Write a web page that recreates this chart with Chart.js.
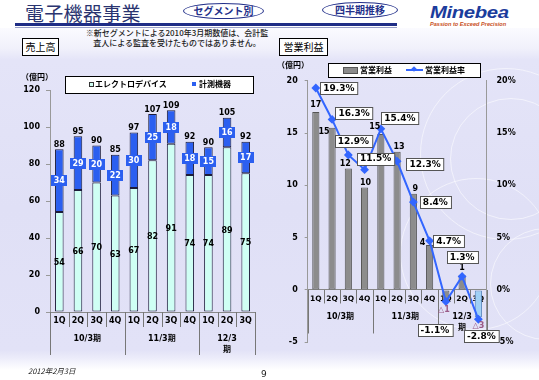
<!DOCTYPE html>
<html><head><meta charset="utf-8">
<script src="https://cdn.jsdelivr.net/npm/chart.js@4.4.1/dist/chart.umd.min.js"></script>
<style>
html,body{margin:0;padding:0;}
body{width:539px;height:380px;position:relative;overflow:hidden;background:#fff;font-family:"DejaVu Sans","Noto Sans CJK JP",sans-serif;}
.a{position:absolute;white-space:nowrap;}
#bg{position:absolute;left:0;top:28px;width:539px;height:342px;overflow:hidden;
background:linear-gradient(to bottom,#fbfbff 0px,#f1f1fb 20px,#e4e4f8 32px,#e0e0f6 180px,#e2e2f7 322px,#ececfa 330px,#f6f6fd 336px,#fff 342px);}
.circ{position:absolute;border:1.5px solid rgba(255,255,255,0.55);border-radius:50%;}
canvas{position:absolute;top:0;}
.jp{font-family:"Noto Sans CJK JP",sans-serif;}
.box{position:absolute;background:#fff;border:1px solid #000;}
.oval{position:absolute;background:#fff;border:1.5px solid #23308a;border-radius:50%;color:#23308a;font-weight:bold;font-size:10px;text-align:center;font-family:"Noto Sans CJK JP",sans-serif;}
</style></head>
<body>
<div id="bg">
  <div class="circ" style="left:420px;top:40px;width:170px;height:170px;"></div>
  <div class="circ" style="left:450px;top:70px;width:120px;height:120px;"></div>
  <div class="circ" style="left:400px;top:150px;width:150px;height:150px;"></div>
  <div class="circ" style="left:490px;top:200px;width:110px;height:110px;"></div>
</div>
<div class="a jp" style="left:25px;top:0px;font-size:19px;line-height:26px;color:#2a3470;letter-spacing:0.3px;">電子機器事業</div>
<div class="oval" style="left:183px;top:3px;width:79px;height:14px;line-height:14px;">セグメント別</div>
<div class="oval" style="left:322px;top:2px;width:74px;height:14px;line-height:14px;">四半期推移</div>
<div class="a" style="left:15px;top:23px;width:382px;height:3px;background:#1f2d86;"></div>
<div class="a" style="left:15px;top:27px;width:382px;height:1px;background:#9aa0c8;"></div>
<div class="a" style="left:430px;top:4px;font-size:16px;font-weight:bold;font-style:italic;color:#1b3c9c;font-family:'Liberation Sans',sans-serif;transform:scaleX(1.27);transform-origin:left top;letter-spacing:-0.3px;">Minebea</div>
<div class="a" style="left:430px;top:21px;font-size:5.6px;font-weight:bold;font-style:italic;color:#c8501e;font-family:'Liberation Sans',sans-serif;">Passion to Exceed Precision</div>
<div class="a jp" style="left:76px;top:28px;width:202px;text-align:center;font-size:8px;line-height:10px;color:#222;font-weight:500;">※新セグメントによる2010年3月期数値は、会計監<br>査人による監査を受けたものではありません。</div>
<div class="box jp" style="left:22px;top:38px;width:35px;height:16px;font-size:10px;line-height:16px;text-align:center;">売上高</div>
<div class="box jp" style="left:279px;top:38px;width:47px;height:16px;font-size:10px;line-height:16px;text-align:center;">営業利益</div>

<canvas id="c1" width="270" height="380" style="left:0px;"></canvas>
<canvas id="c2" width="269" height="380" style="left:270px;"></canvas>

<div class="a jp" style="left:21px;top:71px;font-size:8px;font-weight:bold;line-height:12px;">（億円）</div>
<div class="a jp" style="left:277px;top:59px;font-size:8px;font-weight:bold;line-height:12px;">（億円）</div>
<div class="box" style="left:65px;top:76px;width:187px;height:16px;"></div>
<div class="a" style="left:89px;top:82px;width:3px;height:3px;background:#cffff4;border:1px solid #333;"></div>
<div class="a jp" style="left:95px;top:78px;font-size:8px;font-weight:bold;line-height:12px;">エレクトロデバイス</div>
<div class="a" style="left:192px;top:82px;width:4px;height:4px;background:#2b5ff0;"></div>
<div class="a jp" style="left:199px;top:78px;font-size:8px;font-weight:bold;line-height:12px;">計測機器</div>
<div class="box" style="left:328px;top:63px;width:151px;height:13px;"></div>
<div class="a" style="left:343px;top:67px;width:13px;height:5px;background:#8c8c8c;border:1px solid #555;"></div>
<div class="a jp" style="left:360px;top:64px;font-size:8px;font-weight:bold;line-height:12px;">営業利益</div>
<div class="a" style="left:406px;top:69px;width:17px;height:2px;background:#3366ff;"></div>
<div class="a" style="left:412px;top:67px;width:4px;height:4px;background:#3366ff;transform:rotate(45deg);"></div>
<div class="a jp" style="left:425px;top:64px;font-size:8px;font-weight:bold;line-height:12px;">営業利益率</div>

<div class="a" style="left:28px;top:365px;font-size:7.5px;font-style:italic;color:#222;font-family:'Noto Sans CJK JP',sans-serif;">2012年2月3日</div>
<div class="a" style="left:261px;top:369px;font-size:9px;color:#222;">9</div>

<script>
// ---- data ----
const quarters = ["1Q","2Q","3Q","4Q","1Q","2Q","3Q","4Q","1Q","2Q","3Q"];
const groups = ["10/3期","11/3期","12/3\n期"];
const groupSizes = [4,4,3];
const electroDevices = [54,66,70,63,67,82,91,74,74,89,75];
const instruments = [34,29,20,22,30,25,18,18,15,16,17];
const salesTotals = [88,95,90,85,97,107,109,92,90,105,92];
const opProfit = [17.0,15.5,11.6,9.8,14.9,13.2,9.2,4.3,-1.0,1.4,-2.6];
const opProfitText = ["17","15","12","10","15","13","9","4","△1","1","△3"];
const opMargin = [19.3,16.3,12.9,11.5,15.4,12.3,8.4,4.7,-1.1,1.3,-2.8];
const salesTicks = [0,20,40,60,80,100,120];
const profitTicks = [-5,0,5,10,15,20];

// ---- styles / label offsets ----
const CYAN = '#cffff4', BLUE = '#2b5ff0', EDGE = '#1c1c3a';
const profitOff = [[0,-7],[-8,4],[-3,-5],[1,-5],[-6,-7],[2,-5],[2,-5],[-7,-2],[-2,9],[0,-7],[0,9]];
const marginOff = [[23,0],[22,-6],[5,-14],[11,-11],[19,-11],[28,3],[22,0],[19,0],[-11,29],[0,-19],[3,17]];
const NUM = 'bold 8px "DejaVu Sans", "Noto Sans CJK JP"';

function drawGroups(chart, x0, quarterLen, groupLen, labelDy){
  const ctx = chart.ctx, xs = chart.scales.x, ca = chart.chartArea;
  const n = quarters.length;
  const bx = [];
  for(let i=0;i<=n;i++){
    if(i===0) bx.push(ca.left);
    else if(i===n) bx.push(ca.right);
    else bx.push((xs.getPixelForValue(i-1)+xs.getPixelForValue(i))/2);
  }
  const groupEdges = [0];
  groupSizes.reduce((a,s)=>{groupEdges.push(a+s);return a+s;},0);
  ctx.save();
  ctx.strokeStyle = '#777'; ctx.lineWidth = 1;
  for(let i=0;i<=n;i++){
    const isG = groupEdges.includes(i);
    const x = Math.round(bx[i])+0.5;
    ctx.beginPath(); ctx.moveTo(x, x0); ctx.lineTo(x, x0 + (isG?groupLen:quarterLen)); ctx.stroke();
  }
  ctx.fillStyle = '#000'; ctx.font = NUM; ctx.textAlign='center'; ctx.textBaseline='middle';
  for(let g=0; g<groups.length; g++){
    const cx = (bx[groupEdges[g]] + bx[groupEdges[g+1]])/2;
    groups[g].split('\n').forEach((t,k)=>ctx.fillText(t, cx, x0+labelDy+k*11));
  }
  ctx.restore();
}

const leftPlugin = {
  id:'leftLabels',
  afterDatasetsDraw(chart){
    const ctx = chart.ctx;
    const m0 = chart.getDatasetMeta(0), m1 = chart.getDatasetMeta(1);
    ctx.save();
    ctx.font = NUM; ctx.textAlign='center'; ctx.textBaseline='middle';
    m0.data.forEach((b,i)=>{ ctx.fillStyle='#000'; ctx.fillText(String(electroDevices[i]), b.x, (b.y+b.base)/2+1); });
    m1.data.forEach((b,i)=>{
      const cy = (b.y+b.base)/2;
      ctx.fillStyle = BLUE; ctx.fillRect(Math.round(b.x-8), Math.round(cy-5.5), 16, 11);
      ctx.fillStyle = '#fff'; ctx.textBaseline='middle'; ctx.fillText(String(instruments[i]), b.x, cy+0.5);
      ctx.fillStyle = '#000'; ctx.textBaseline='bottom'; ctx.fillText(String(salesTotals[i]), b.x, b.y-0.5);
    });
    ctx.restore();
    drawGroups(chart, chart.chartArea.bottom, 15, 43, 27);
  }
};

const rightPlugin = {
  id:'rightLabels',
  afterDatasetsDraw(chart){
    const ctx = chart.ctx;
    const ys = chart.scales.y;
    drawGroups(chart, ys.getPixelForValue(0), 13.5, 43.5, 27);
    const mb = chart.getDatasetMeta(1), ml = chart.getDatasetMeta(0);
    ctx.save();
    ctx.font = NUM; ctx.textAlign='center'; ctx.textBaseline='middle';
    mb.data.forEach((b,i)=>{
      const t = opProfitText[i];
      ctx.fillStyle = t.startsWith('△') ? '#9a5a86' : '#000';
      ctx.fillText(t, b.x+profitOff[i][0], b.y+profitOff[i][1]);
    });
    ctx.font = 'bold 9px "DejaVu Sans"';
    ml.data.forEach((p,i)=>{
      const t = opMargin[i].toFixed(1)+'%';
      const w = ctx.measureText(t).width + 6, h = 12;
      const cx = p.x+marginOff[i][0], cy = p.y+marginOff[i][1];
      const x = Math.round(cx-w/2)+0.5, y = Math.round(cy-h/2)+0.5;
      ctx.fillStyle='#fff'; ctx.fillRect(x,y,w,h);
      ctx.strokeStyle='#555'; ctx.lineWidth=1; ctx.strokeRect(x,y,w,h);
      ctx.fillStyle='#000'; ctx.fillText(t, cx, cy+0.5);
    });
    ctx.restore();
  }
};

const tickFont = {family:'DejaVu Sans', size:8, weight:'bold'};

new Chart(document.getElementById('c1'), {
  type:'bar',
  data:{ labels: quarters, datasets:[
    {label:'エレクトロデバイス', data: electroDevices, backgroundColor: CYAN, borderColor: EDGE, borderWidth:1, stack:'s', borderSkipped:false},
    {label:'計測機器', data: instruments, backgroundColor: BLUE, borderColor: EDGE, borderWidth:1, stack:'s', borderSkipped:false}
  ]},
  options:{
    responsive:false, animation:false, devicePixelRatio:1,
    layout:{padding:{top:90,right:15,left:0,bottom:0}},
    plugins:{legend:{display:false}, tooltip:{enabled:false}},
    datasets:{bar:{categoryPercentage:1, barPercentage:0.46}},
    scales:{
      x:{stacked:true, offset:true, grid:{display:false, drawTicks:false}, border:{display:true,color:'#888'},
         ticks:{font:tickFont, color:'#000', padding:4, autoSkip:false, maxRotation:0},
         afterFit(s){ s.height = 68; }},
      y:{stacked:true, min:0, max:120, afterBuildTicks(s){ s.ticks = salesTicks.map(v=>({value:v})); },
         grid:{drawOnChartArea:false, drawTicks:true, tickLength:4, color:'#999'}, border:{display:true,color:'#999'},
         ticks:{font:tickFont, color:'#000', padding:6},
         afterFit(s){ s.width = 50; }}
    }
  },
  plugins:[leftPlugin]
});

new Chart(document.getElementById('c2'), {
  type:'bar',
  data:{ labels: quarters, datasets:[
    {type:'line', label:'営業利益率', data: opMargin, yAxisID:'y', order:0, borderColor:'#3366ff', borderWidth:2,
     pointStyle:'rectRot', pointRadius:3, pointBackgroundColor:'#3366ff', pointBorderColor:'#3366ff', tension:0},
    {type:'bar', label:'営業利益', data: opProfit, yAxisID:'y', order:1,
     backgroundColor: opProfit.map((v,i)=> i===10 ? '#9fd0f5' : '#8c8c8c'),
     borderColor: opProfit.map((v,i)=> i===10 ? '#5a8ac0' : '#555'), borderWidth:1, borderSkipped:false,
     categoryPercentage:1, barPercentage:0.44}
  ]},
  options:{
    responsive:false, animation:false, devicePixelRatio:1,
    layout:{padding:{top:80.7,right:0,left:0,bottom:37.7}},
    plugins:{legend:{display:false}, tooltip:{enabled:false}},
    scales:{
      x:{position:{y:0}, z:1, offset:true, grid:{display:false, drawTicks:false}, border:{display:true,color:'#888'},
         ticks:{font:{family:'DejaVu Sans', size:7.5, weight:'bold'}, color:'#000', padding:5, autoSkip:false, maxRotation:0}},
      y:{position:'left', min:-5, max:20, afterBuildTicks(s){ s.ticks = profitTicks.map(v=>({value:v})); },
         grid:{drawOnChartArea:false, drawTicks:true, tickLength:3, color:'#999'}, border:{display:true,color:'#999'},
         ticks:{font:tickFont, color:'#000', padding:7},
         afterFit(s){ s.width = 37.7; }},
      y2:{position:'right', min:-5, max:20, afterBuildTicks(s){ s.ticks = profitTicks.map(v=>({value:v})); },
         grid:{display:false, drawTicks:false}, border:{display:true,color:'#999'},
         ticks:{font:tickFont, color:'#000', padding:10, callback:v=>v+'%'},
         afterFit(s){ s.width = 52.5; }}
    }
  },
  plugins:[rightPlugin]
});
</script>
</body></html>
